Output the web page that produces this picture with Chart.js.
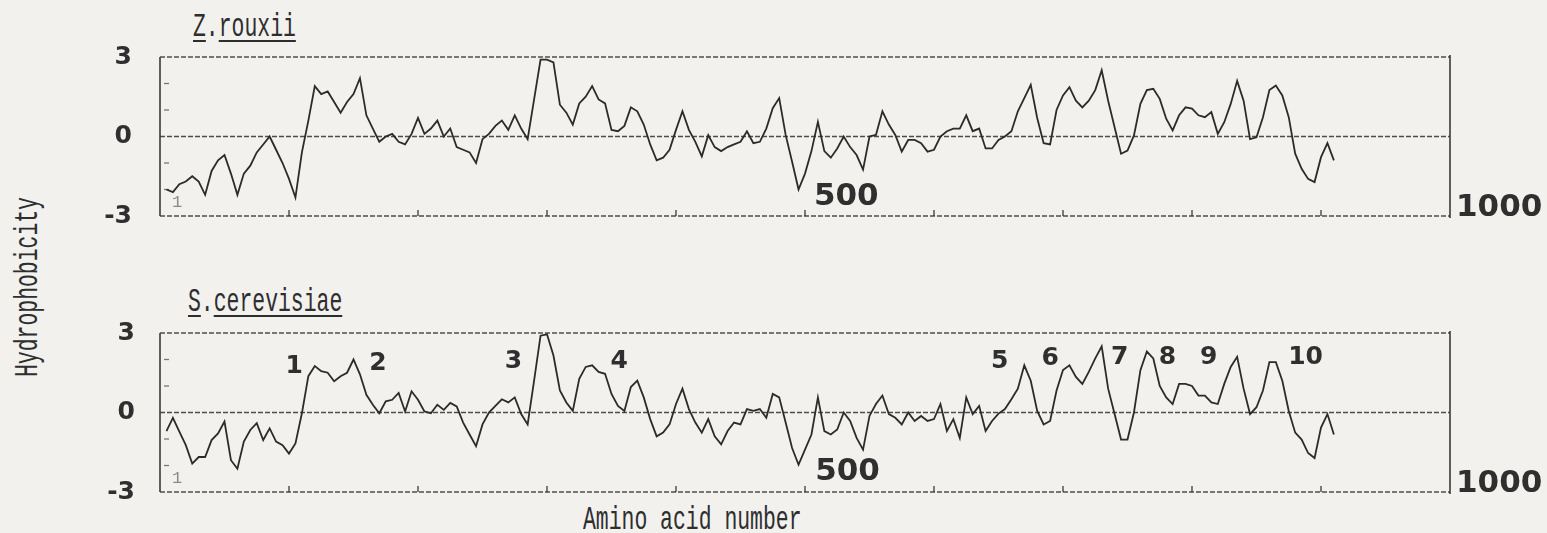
<!DOCTYPE html>
<html>
<head>
<meta charset="utf-8">
<script src="https://cdn.jsdelivr.net/npm/chart.js@4"></script>
<style>
  body { margin: 0; background: #f2f1ee; overflow: hidden; }
  #page { position: relative; width: 1547px; height: 533px; }
  canvas { position: absolute; left: 0; }
  .tw { position: absolute; font-family: "Liberation Mono", monospace; font-size: 34px; line-height: 34px;
        color: #2e2e2e; white-space: nowrap; transform-origin: left top; transform: scaleX(0.63); }
  .tw u { text-decoration-thickness: 2px; text-underline-offset: 4px; }
  #ytitle { position: absolute; width: 300px; text-align: center; font-family: "Liberation Mono", monospace;
        font-size: 34px; line-height: 34px; color: #2e2e2e; left: -122px; top: 270px;
        transform-origin: center center; transform: rotate(-90deg) scaleX(0.63); }
</style>
</head>
<body>
<div id="page">
  <div class="tw" style="left:193px; top:10px;"><u>Z</u>.<u>rouxii</u></div>
  <div class="tw" style="left:188px; top:285px;"><u>S</u>.<u>cerevisiae</u></div>
  <div id="ytitle">Hydrophobicity</div>
  <div class="tw" style="left:583px; top:503px;">Amino acid number</div>
  <canvas id="chartTop" width="1547" height="260" style="top:0px;"></canvas>
  <canvas id="chartBottom" width="1547" height="273" style="top:260px;"></canvas>
</div>
<script>
// hydrophobicity, one value per 5 residues (window centre 5, 10, 15 ...)
const zRouxii = [
  -2.0, -2.1, -1.8, -1.7, -1.5, -1.7, -2.2, -1.3, -0.9, -0.7,
  -1.4, -2.2, -1.4, -1.1, -0.6, -0.3, 0.0, -0.5, -1.0, -1.6,
  -2.3, -0.6, 0.6, 1.9, 1.6, 1.7, 1.3, 0.9, 1.3, 1.6,
  2.2, 0.8, 0.3, -0.2, 0.0, 0.1, -0.2, -0.3, 0.1, 0.7,
  0.1, 0.3, 0.6, 0.0, 0.3, -0.4, -0.5, -0.6, -1.0, -0.1,
  0.1, 0.4, 0.6, 0.25, 0.8, 0.3, -0.1, 1.4, 2.9, 2.9,
  2.8, 1.2, 0.9, 0.45, 1.25, 1.5, 1.9, 1.4, 1.25, 0.25,
  0.2, 0.4, 1.1, 0.95, 0.45, -0.3, -0.9, -0.8, -0.5, 0.25,
  0.95, 0.25, -0.2, -0.75, 0.05, -0.4, -0.55, -0.4, -0.3, -0.2,
  0.2, -0.25, -0.2, 0.3, 1.07, 1.45, 0.06, -0.95, -2.0, -1.4,
  -0.55, 0.55, -0.55, -0.8, -0.45, 0.0, -0.4, -0.7, -1.25, 0.0,
  0.06, 0.95, 0.45, 0.06, -0.57, -0.13, -0.13, -0.25, -0.57, -0.5,
  0.0, 0.2, 0.3, 0.3, 0.8, 0.2, 0.3, -0.45, -0.45, -0.13,
  0.0, 0.2, 0.95, 1.45, 1.95, 0.7, -0.25, -0.3, 1.0, 1.55,
  1.86, 1.35, 1.1, 1.35, 1.75, 2.5, 1.35, 0.35, -0.65, -0.53,
  0.04, 1.23, 1.75, 1.8, 1.42, 0.67, 0.23, 0.8, 1.1, 1.05,
  0.8, 0.73, 0.92, 0.1, 0.54, 1.23, 2.1, 1.35, -0.1, -0.03,
  0.73, 1.75, 1.92, 1.55, 0.73, -0.65, -1.22, -1.6, -1.72, -0.78,
  -0.25, -0.9
];
const sCerevisiae = [
  -0.7, -0.2, -0.72, -1.23, -1.93, -1.68, -1.68, -1.04, -0.79, -0.34,
  -1.8, -2.12, -1.1, -0.66, -0.4, -1.04, -0.6, -1.1, -1.23, -1.55,
  -1.17, -0.03, 1.37, 1.75, 1.56, 1.5, 1.18, 1.37, 1.5, 2.0,
  1.44, 0.67, 0.29, -0.03, 0.42, 0.48, 0.74, 0.04, 0.8, 0.48,
  0.04, -0.03, 0.29, 0.1, 0.36, 0.23, -0.38, -0.83, -1.27, -0.45,
  0.0, 0.25, 0.5, 0.38, 0.57, -0.06, -0.45, 1.2, 2.9, 2.95,
  2.15, 0.83, 0.38, 0.06, 1.27, 1.72, 1.78, 1.53, 1.46, 0.7,
  0.25, 0.06, 0.96, 1.2, 0.57, -0.25, -0.9, -0.76, -0.45, 0.32,
  0.9, 0.13, -0.38, -0.76, -0.25, -0.9, -1.2, -0.7, -0.38, -0.45,
  0.13, 0.06, 0.13, -0.2, 0.7, 0.57, -0.38, -1.34, -1.97, -1.4,
  -0.83, 0.57, -0.7, -0.83, -0.64, 0.0, -0.32, -0.96, -1.4, -0.13,
  0.32, 0.64, -0.06, -0.2, -0.45, 0.0, -0.32, -0.13, -0.32, -0.25,
  0.32, -0.7, -0.25, -0.96, 0.57, -0.06, 0.25, -0.7, -0.32, -0.04,
  0.13, 0.5, 0.9, 1.78, 1.2, 0.06, -0.45, -0.32, 0.83, 1.6,
  1.78, 1.34, 1.08, 1.53, 2.04, 2.5, 0.9, -0.06, -1.02, -1.02,
  0.0, 1.6, 2.3, 2.04, 1.0, 0.57, 0.32, 1.08, 1.08, 1.0,
  0.64, 0.64, 0.38, 0.32, 1.08, 1.72, 2.1, 0.9, -0.06, 0.2,
  0.83, 1.9, 1.9, 1.2, 0.06, -0.76, -1.02, -1.53, -1.72, -0.57,
  -0.06, -0.83
];
const residueStart = 5;
const residueStep = 5;

// axes
const xTickValues = [100, 200, 300, 400, 500, 600, 700, 800, 900];
const yLabelValues = [-3, 0, 3];
const yMinorTicks = [-2, -1, 1, 2];

// numbered hydrophobic segments on the S.cerevisiae profile: [text, residue, value]
const segmentNames = ['1', '2', '3', '4', '5', '6', '7', '8', '9', '10'];
const segmentResidue = [104, 169, 274, 356, 651, 690, 744, 781, 813, 888];
const segmentValue = [1.74, 1.85, 1.92, 1.92, 1.92, 2.04, 2.08, 2.08, 2.08, 2.08];

function toPoints(values) {
  return values.map(function(v, i) { return { x: residueStart + residueStep * i, y: v }; });
}

function line(ctx, x1, y1, x2, y2) {
  ctx.beginPath(); ctx.moveTo(x1, y1); ctx.lineTo(x2, y2); ctx.stroke();
}

// box, zero line and small tick marks, like the plotter drew them
const framePlugin = {
  id: 'frame',
  beforeDatasetsDraw: function(chart) {
    const ctx = chart.ctx, a = chart.chartArea, x = chart.scales.x, y = chart.scales.y;
    ctx.save();
    ctx.strokeStyle = '#4d4d4d';
    ctx.lineWidth = 1.3;
    ctx.setLineDash([5, 2]);
    line(ctx, a.left, a.top, a.right, a.top);
    line(ctx, a.left, a.bottom, a.right, a.bottom);
    line(ctx, a.left, y.getPixelForValue(0), a.right, y.getPixelForValue(0));
    ctx.setLineDash([]);
    ctx.strokeStyle = '#3a3a3a';
    ctx.lineWidth = 1.6;
    line(ctx, a.left, a.top, a.left, a.bottom);
    line(ctx, a.right, a.top - 2, a.right, a.bottom + 2);
    ctx.lineWidth = 1.3;
    xTickValues.forEach(function(v) {
      const px = x.getPixelForValue(v);
      line(ctx, px, a.bottom, px, a.bottom - 6);
    });
    ctx.strokeStyle = '#777';
    yMinorTicks.forEach(function(v) {
      const py = y.getPixelForValue(v);
      line(ctx, a.left + 4, py, a.left + 9, py);
    });
    // small "1" at the start of the sequence
    ctx.fillStyle = '#8a8a8a';
    ctx.font = '17px "Liberation Mono"';
    ctx.textAlign = 'left';
    ctx.textBaseline = 'alphabetic';
    ctx.fillText('1', a.left + 12, a.bottom - 9);
    ctx.restore();
  },
  afterDatasetsDraw: function(chart) {
    const ctx = chart.ctx, a = chart.chartArea, x = chart.scales.x, y = chart.scales.y;
    const marks = chart.options.plugins.frame.marks || [];
    ctx.save();
    ctx.fillStyle = '#2f2f2f';
    ctx.textAlign = 'center';
    ctx.textBaseline = 'middle';
    ctx.font = 'bold 25px "DejaVu Sans"';
    marks.forEach(function(m) {
      ctx.fillText(m[0], x.getPixelForValue(m[1]), y.getPixelForValue(m[2]));
    });
    ctx.font = 'bold 31px "DejaVu Sans"';
    const p500 = chart.options.plugins.frame.label500;
    ctx.fillText('500', x.getPixelForValue(p500[0]), y.getPixelForValue(p500[1]));
    ctx.textAlign = 'left';
    ctx.textBaseline = 'alphabetic';
    ctx.fillText('1000', a.right + 6, a.bottom);
    ctx.restore();
  }
};

function makeChart(id, values, top, bottom, height, marks, label500, tickPad) {
  return new Chart(document.getElementById(id), {
    type: 'line',
    data: {
      datasets: [{
        data: toPoints(values),
        borderColor: '#2b2b2b',
        borderWidth: 1.8,
        pointRadius: 0,
        tension: 0
      }]
    },
    options: {
      responsive: false,
      animation: false,
      events: [],
      layout: { padding: { top: top, bottom: height - bottom, left: 0, right: 97 } },
      plugins: {
        legend: { display: false },
        tooltip: { enabled: false },
        frame: { marks: marks, label500: label500 }
      },
      scales: {
        x: { type: 'linear', min: 0, max: 1000, display: false },
        y: {
          min: -3, max: 3,
          afterBuildTicks: function(s) { s.ticks = yLabelValues.map(function(v) { return { value: v }; }); },
          afterFit: function(s) { s.width = 160; },
          grid: { display: false },
          border: { display: false },
          ticks: {
            padding: tickPad,
            color: '#2f2f2f',
            font: { family: 'DejaVu Sans', size: 25, weight: 'bold' }
          }
        }
      }
    },
    plugins: [framePlugin]
  });
}

var marks = segmentNames.map(function(t, i) { return [t, segmentResidue[i], segmentValue[i]]; });

var chartTop = makeChart('chartTop', zRouxii, 57, 216, 260, [], [532, -2.3], 20);
var chartBottom = makeChart('chartBottom', sCerevisiae, 73, 232, 273, marks, [533, -2.26], 17);
</script>
</body>
</html>
